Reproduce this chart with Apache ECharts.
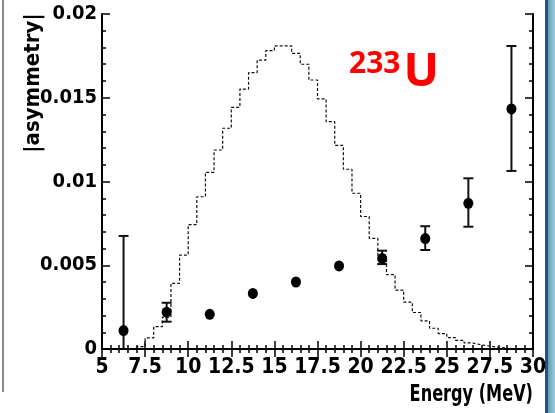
<!DOCTYPE html>
<html>
<head>
<meta charset="utf-8">
<script src="https://cdn.jsdelivr.net/npm/echarts@6/dist/echarts.min.js"></script>
<style>
  html, body { margin: 0; padding: 0; background: #fff; }
  #chart { width: 555px; height: 413px; }
</style>
</head>
<body>
<div id="chart"></div>
<script>
// histogram (dashed), left bin edges in MeV and bin heights
var histEdges = [6.5, 7, 7.5, 8, 8.5, 9, 9.5, 10, 10.5, 11, 11.5, 12, 12.5, 13, 13.5, 14, 14.5,
  15, 15.5, 16, 16.5, 17, 17.5, 18, 18.5, 19, 19.5, 20, 20.5, 21, 21.5, 22, 22.5, 23, 23.5,
  24, 24.5, 25, 25.5, 26, 26.5, 27, 27.5, 28, 28.5];
var histValues = [0, 0.00014, 0.00066, 0.00133, 0.0019, 0.00392, 0.00561, 0.00742, 0.00909,
  0.01055, 0.01188, 0.01318, 0.01443, 0.01552, 0.0165, 0.01725, 0.01781, 0.0181, 0.0181,
  0.01765, 0.017, 0.01606, 0.01493, 0.01357, 0.01216, 0.01073, 0.0093, 0.00791, 0.00661,
  0.0055, 0.00444, 0.00352, 0.0028, 0.00218, 0.00168, 0.00124, 0.00092, 0.00068, 0.00052,
  0.00036, 0.00025, 0.00017, 0.0001, 0.00006, 0];

// measured points
var energies = [6.25, 8.75, 11.25, 13.75, 16.25, 18.75, 21.25, 23.75, 26.25, 28.75];
var asym     = [0.0011, 0.0022, 0.00207, 0.00332, 0.0040, 0.00496, 0.00541, 0.00659, 0.0087, 0.01433];
var errLow   = [-0.0045, 0.00163, 0.00207, 0.00332, 0.0040, 0.00496, 0.00507, 0.00591, 0.0073, 0.01063];
var errHigh  = [0.00675, 0.00276, 0.00207, 0.00332, 0.0040, 0.00496, 0.00587, 0.00733, 0.01019, 0.01809];

var xTicks = ['5', '7.5', '10', '12.5', '15', '17.5', '20', '22.5', '25', '27.5', '30'];
var yTicks = ['0', '0.005', '0.01', '0.015', '0.02'];

var labelFont = '"DejaVu Sans Condensed", "Liberation Sans", sans-serif';

var histData = histEdges.map(function (e, i) { return [e, histValues[i]]; });
var pointData = energies.map(function (e, i) { return [e, asym[i]]; });
var errData = energies.map(function (e, i) { return [e, errLow[i], errHigh[i]]; });

var chart = echarts.init(document.getElementById('chart'));

var tickStyle = { color: '#000', width: 1.5 };

chart.setOption({
  animation: false,
  backgroundColor: '#fff',
  grid: { left: 102, right: 22, top: 14, bottom: 64 },
  xAxis: [{
    type: 'value', min: 5, max: 30, interval: 2.5,
    axisLine: { lineStyle: { color: '#000', width: 2 } },
    axisTick: { inside: true, length: 8, lineStyle: tickStyle },
    minorTick: { show: true, splitNumber: 5, length: 4, lineStyle: tickStyle },
    splitLine: { show: false },
    axisLabel: {
      color: '#000', fontSize: 21, fontWeight: 'bold', fontFamily: labelFont, margin: 8,
      formatter: function (v) { return xTicks[Math.round((v - 5) / 2.5)]; }
    }
  }, {
    type: 'value', min: 5, max: 30, interval: 2.5, position: 'top',
    axisLine: { lineStyle: { color: '#000', width: 2 } },
    axisTick: { inside: true, length: 8, lineStyle: tickStyle },
    minorTick: { show: true, splitNumber: 5, length: 4, lineStyle: tickStyle },
    splitLine: { show: false },
    axisLabel: { show: false }
  }],
  yAxis: [{
    type: 'value', min: 0, max: 0.02, interval: 0.005,
    axisLine: { show: true, lineStyle: { color: '#000', width: 2 } },
    axisTick: { show: true, inside: true, length: 8, lineStyle: tickStyle },
    minorTick: { show: true, splitNumber: 5, length: 4, lineStyle: tickStyle },
    splitLine: { show: false },
    axisLabel: {
      color: '#000', fontSize: 20, fontWeight: 'bold', fontFamily: labelFont, margin: 5,
      formatter: function (v) { return yTicks[Math.round(v / 0.005)]; }
    }
  }, {
    type: 'value', min: 0, max: 0.02, interval: 0.005, position: 'right',
    axisLine: { show: true, lineStyle: { color: '#000', width: 2 } },
    axisTick: { show: true, inside: true, length: 8, lineStyle: tickStyle },
    minorTick: { show: true, splitNumber: 5, length: 4, lineStyle: tickStyle },
    splitLine: { show: false },
    axisLabel: { show: false }
  }],
  series: [{
    type: 'line',
    step: 'end',
    data: histData,
    symbol: 'none',
    lineStyle: { color: '#111', width: 1.2, type: [3, 2] },
    z: 2
  }, {
    type: 'custom',
    data: errData,
    clip: true,
    renderItem: function (params, api) {
      var x = api.value(0);
      var lo = api.coord([x, api.value(1)]);
      var hi = api.coord([x, api.value(2)]);
      // bars shorter than the marker are hidden behind it
      if (Math.abs(lo[1] - hi[1]) < 2) return null;
      var cap = 5;
      var st = { stroke: '#111', lineWidth: 2 };
      return {
        type: 'group',
        children: [
          { type: 'line', shape: { x1: lo[0], y1: lo[1], x2: hi[0], y2: hi[1] }, style: st },
          { type: 'line', shape: { x1: hi[0] - cap, y1: hi[1], x2: hi[0] + cap, y2: hi[1] }, style: st },
          { type: 'line', shape: { x1: lo[0] - cap, y1: lo[1], x2: lo[0] + cap, y2: lo[1] }, style: st }
        ]
      };
    },
    z: 3
  }, {
    type: 'scatter',
    data: pointData,
    symbol: 'circle',
    symbolSize: [10, 11],
    itemStyle: { color: '#000', opacity: 1 },
    z: 4
  }],
  graphic: [
    { type: 'rect', shape: { x: 2, y: 0, width: 2, height: 392 }, style: { fill: '#8a8a8a' } },
    { type: 'rect', shape: { x: 545, y: 0, width: 3, height: 413 }, style: { fill: '#23508c' } },
    { type: 'rect', shape: { x: 548, y: 0, width: 7, height: 413 },
      style: { fill: new echarts.graphic.LinearGradient(0, 0, 1, 0, [
        { offset: 0, color: '#5f9fb0' }, { offset: 1, color: '#9ccfd0' }]) } },
    {
      type: 'text', x: 33, y: 83, rotation: Math.PI / 2,
      style: {
        text: '|asymmetry|', fill: '#000', font: 'bold 22px ' + labelFont,
        align: 'center', verticalAlign: 'middle'
      }
    },
    {
      type: 'text', x: 533, y: 395, scaleX: 0.78,
      style: {
        text: 'Energy (MeV)', fill: '#000', font: 'bold 23px ' + labelFont,
        align: 'right', verticalAlign: 'middle'
      }
    },
    {
      type: 'text', x: 349, y: 73,
      style: {
        text: '{s|233}{b|U}', align: 'left', verticalAlign: 'middle',
        rich: {
          s: { fill: '#ff0000', fontSize: 30, fontWeight: 'bold', fontFamily: 'Open Sans', verticalAlign: 'top', padding: [0, 3, 16, 0] },
          b: { fill: '#ff0000', fontSize: 47, fontWeight: 'bold', fontFamily: 'Open Sans' }
        }
      }
    }
  ]
});
</script>
</body>
</html>
